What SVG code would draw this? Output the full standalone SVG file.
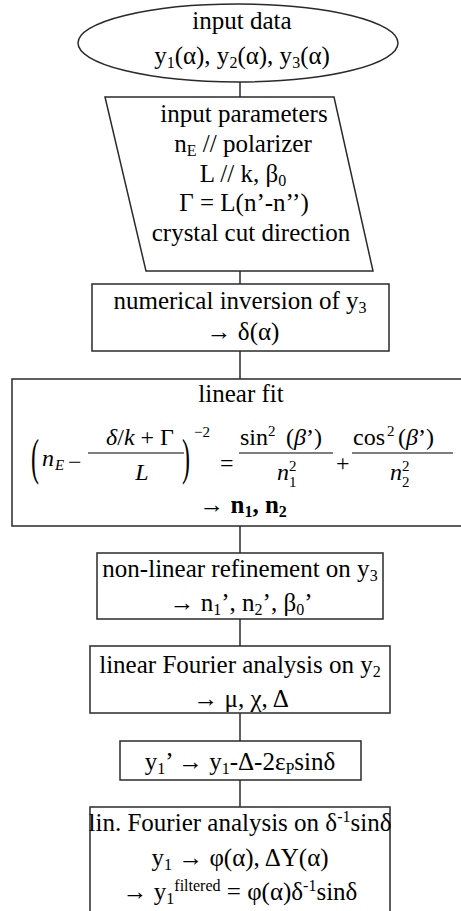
<svg xmlns="http://www.w3.org/2000/svg" width="461" height="911" viewBox="0 0 461 911">
<style>
.bg{fill:#fff}
.shape{fill:#fff;stroke:#2a2a2a;stroke-width:1.5}
.conn{stroke:#2a2a2a;stroke-width:1.5;fill:none}
.t{font-family:'Liberation Serif','DejaVu Serif',serif;font-size:25px;fill:#000;text-anchor:middle}
.s{font-size:16px}
.m{font-family:'Liberation Serif','DejaVu Serif',serif;font-size:24px;fill:#000}
.i{font-style:italic}
.ms{font-family:'Liberation Serif','DejaVu Serif',serif;font-size:15px;fill:#000}
.bar{stroke:#000;stroke-width:1.2}
</style>
<rect class="bg" x="0" y="0" width="461" height="911"/>
<g id="connectors">
<line class="conn" x1="240" y1="81" x2="240" y2="97"/>
<line class="conn" x1="240" y1="271" x2="240" y2="284"/>
<line class="conn" x1="240" y1="351" x2="240" y2="379"/>
<line class="conn" x1="240" y1="526" x2="240" y2="553"/>
<line class="conn" x1="240" y1="619" x2="240" y2="646"/>
<line class="conn" x1="240" y1="713" x2="240" y2="741"/>
<line class="conn" x1="240" y1="780" x2="240" y2="807"/>
</g>
<g id="input-data">
<ellipse class="shape" cx="238" cy="43" rx="160" ry="39"/>
<text class="t" x="242" y="29">input data</text>
<text class="t" x="242" y="64">y<tspan class="s" dy="4">1</tspan><tspan dy="-4">(α), y</tspan><tspan class="s" dy="4">2</tspan><tspan dy="-4">(α), y</tspan><tspan class="s" dy="4">3</tspan><tspan dy="-4">(α)</tspan></text>
</g>
<g id="input-parameters">
<polygon class="shape" points="105,97 334,97 373,271 146,271"/>
<text class="t" x="244" y="122">input parameters</text>
<text class="t" x="243" y="152">n<tspan class="s" dy="4">E</tspan><tspan dy="-4"> // polarizer</tspan></text>
<text class="t" x="243" y="182">L // k, β<tspan class="s" dy="4">0</tspan></text>
<text class="t" x="244" y="211">Γ = L(n’-n’’)</text>
<text class="t" x="251" y="241">crystal cut direction</text>
</g>
<g id="numerical-inversion">
<rect class="shape" x="92" y="284" width="297" height="67"/>
<text class="t" x="240" y="309">numerical inversion of y<tspan class="s" dy="4">3</tspan></text>
<text class="t" x="243" y="340">→ δ(α)</text>
</g>
<g id="linear-fit">
<rect class="shape" x="12" y="379" width="460" height="147"/>
<text class="t" x="241" y="402">linear fit</text>
<text class="m" transform="translate(31,474) scale(1,2.1)">(</text>
<text class="m i" x="42" y="466">n</text>
<text class="ms i" x="55" y="470">E</text>
<text class="m" x="68" y="470">−</text>
<text class="m" x="140" y="445" text-anchor="middle"><tspan class="i">δ</tspan>/<tspan class="i">k</tspan> + Γ</text>
<line class="bar" x1="88" y1="453" x2="184" y2="453"/>
<text class="m i" x="142" y="480" text-anchor="middle">L</text>
<text class="m" transform="translate(182,474) scale(1,2.1)">)</text>
<text class="ms" x="194" y="437">−2</text>
<text class="m" x="220" y="471">=</text>
<text class="m" x="240" y="445">sin</text>
<text class="ms" x="268" y="436">2</text>
<text class="m" x="286" y="445">(<tspan class="i">β</tspan>’)</text>
<line class="bar" x1="239" y1="453" x2="333" y2="453"/>
<text class="m i" x="277" y="480">n</text>
<text class="ms" x="289" y="471">2</text>
<text class="ms" x="289" y="487">1</text>
<text class="m" x="336" y="471">+</text>
<text class="m" x="353" y="445">cos</text>
<text class="ms" x="387" y="436">2</text>
<text class="m" x="398" y="445">(<tspan class="i">β</tspan>’)</text>
<line class="bar" x1="352" y1="453" x2="453" y2="453"/>
<text class="m i" x="390" y="480">n</text>
<text class="ms" x="402" y="471">2</text>
<text class="ms" x="402" y="487">2</text>
<text class="t" x="243" y="513">→ <tspan font-weight="bold">n</tspan><tspan class="s" dy="4" font-weight="bold">1</tspan><tspan dy="-4" font-weight="bold">, n</tspan><tspan class="s" dy="4" font-weight="bold">2</tspan></text>
</g>
<g id="non-linear-refinement">
<rect class="shape" x="97" y="553" width="286" height="66"/>
<text class="t" x="240" y="577">non-linear refinement on y<tspan class="s" dy="4">3</tspan></text>
<text class="t" x="241" y="611">→ n<tspan class="s" dy="4">1</tspan><tspan dy="-4">’, n</tspan><tspan class="s" dy="4">2</tspan><tspan dy="-4">’, β</tspan><tspan class="s" dy="4">0</tspan><tspan dy="-4">’</tspan></text>
</g>
<g id="fourier-y2">
<rect class="shape" x="90" y="646" width="300" height="67"/>
<text class="t" x="240" y="673">linear Fourier analysis on y<tspan class="s" dy="4">2</tspan></text>
<text class="t" x="241" y="707">→ μ, χ, Δ</text>
</g>
<g id="y1-correction">
<rect class="shape" x="120" y="741" width="241" height="39"/>
<text class="t" x="240" y="770">y<tspan class="s" dy="4">1</tspan><tspan dy="-4">’ → y</tspan><tspan class="s" dy="4">1</tspan><tspan dy="-4">-Δ-2ε</tspan><tspan class="s" dy="4">P</tspan><tspan dy="-4">sinδ</tspan></text>
</g>
<g id="fourier-filter">
<rect class="shape" x="90" y="807" width="300" height="110"/>
<text class="t" x="240" y="831">lin. Fourier analysis on δ<tspan class="s" dy="-9">-1</tspan><tspan dy="9">sinδ</tspan></text>
<text class="t" x="240" y="866">y<tspan class="s" dy="4">1</tspan><tspan dy="-4"> → φ(α), ΔY(α)</tspan></text>
<text class="t" x="240" y="900">→ y<tspan class="s" dy="4">1</tspan><tspan class="s" dy="-13">filtered</tspan><tspan dy="9"> = φ(α)δ</tspan><tspan class="s" dy="-9">-1</tspan><tspan dy="9">sinδ</tspan></text>
</g>
</svg>
